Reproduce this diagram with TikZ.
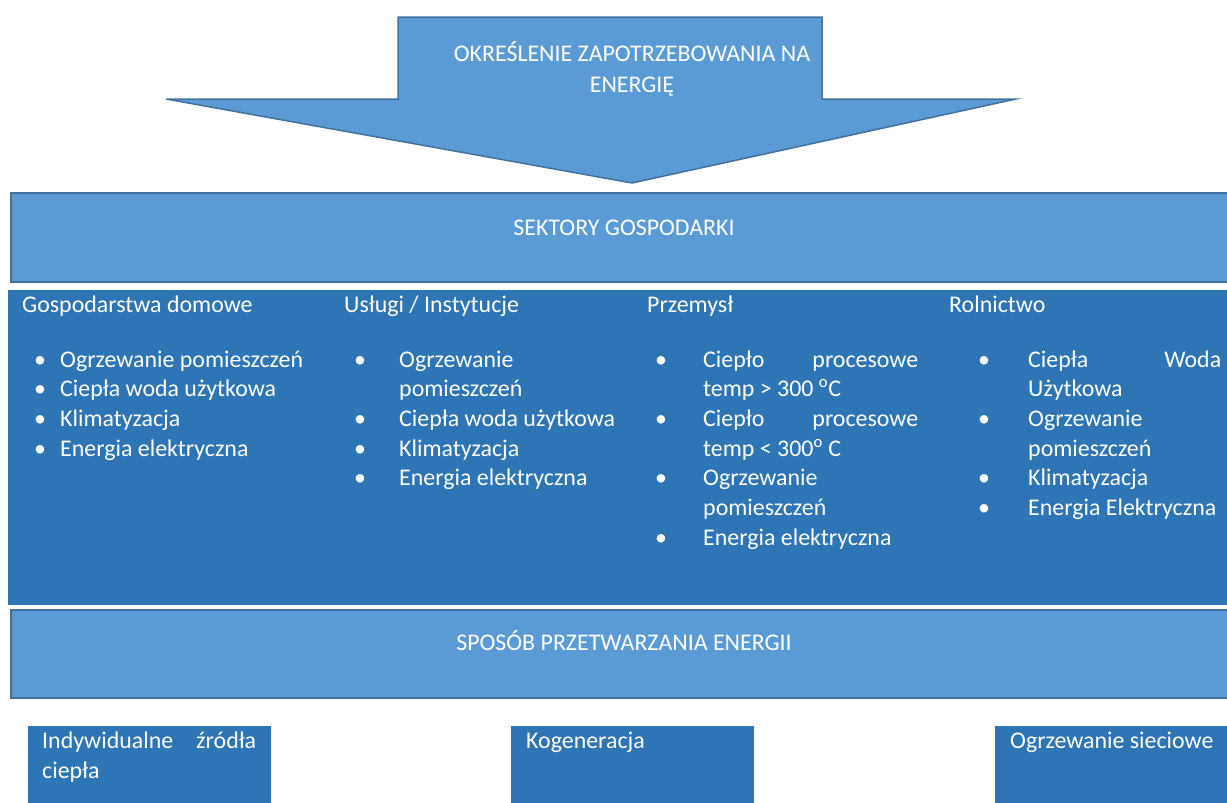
\documentclass[tikz,border=0pt]{standalone}
\usepackage{fontspec}
\setmainfont{Carlito}
\definecolor{lightb}{HTML}{5B9BD5}
\definecolor{darkb}{HTML}{2E75B6}
\definecolor{edgeb}{HTML}{41719C}
\begin{document}
\begin{tikzpicture}[x=1pt,y=-1pt,
  shapefill/.style={fill=lightb, draw=edgeb, line width=1.5pt},
  darkbox/.style={fill=darkb, draw=none, inner sep=0pt, anchor=north west},
  band/.style={shapefill, inner sep=0pt, anchor=north west, minimum width=1230pt, minimum height=89pt},
  txt/.style={text=white, font=\fontsize{23.9}{30}\selectfont, inner sep=0pt, anchor=base west},
  ctxt/.style={txt, anchor=base},
  bul/.style={txt, anchor=base}]
\useasboundingbox (0,0) rectangle (1227,803);
\clip (0,0) rectangle (1227,803);

% top arrow
\draw[shapefill, line join=miter] (398,17) -- (822,17) -- (822,99) -- (1016,99) -- (632,183) -- (166,99) -- (398,99) -- cycle;
\node[ctxt] (top1) at (632,61) {OKREŚLENIE ZAPOTRZEBOWANIA NA};
\node[ctxt] (top2) at (632,92) {ENERGIĘ};

% sectors band
\node[band] (sek) at (10,192) {};
\node[ctxt] (sektxt) at (624,235) {SEKTORY GOSPODARKI};

% dark sector area
\node[darkbox, minimum width=1230pt, minimum height=315pt] (sect) at (8,290) {};

% headings
\node[txt] (h1) at (22,312) {Gospodarstwa domowe};
\node[txt] (h2) at (344,312) {Usługi / Instytucje};
\node[txt] (h3) at (647,312) {Przemysł};
\node[txt] (h4) at (949,312) {Rolnictwo};

% column 1
\node[bul] (c1b1) at (40,367) {•};   \node[txt] (c1t1) at (60,367) {Ogrzewanie pomieszczeń};
\node[bul] (c1b2) at (40,396.7) {•}; \node[txt] (c1t2) at (60,396.7) {Ciepła woda użytkowa};
\node[bul] (c1b3) at (40,426.4) {•}; \node[txt] (c1t3) at (60,426.4) {Klimatyzacja};
\node[bul] (c1b4) at (40,456.1) {•}; \node[txt] (c1t4) at (60,456.1) {Energia elektryczna};

% column 2
\node[bul] (c2b1) at (360,367) {•};   \node[txt] (c2t1) at (399,367) {Ogrzewanie};
                                       \node[txt] (c2t1b) at (399,396.7) {pomieszczeń};
\node[bul] (c2b2) at (360,426.4) {•}; \node[txt] (c2t2) at (399,426.4) {Ciepła woda użytkowa};
\node[bul] (c2b3) at (360,456.1) {•}; \node[txt] (c2t3) at (399,456.1) {Klimatyzacja};
\node[bul] (c2b4) at (360,485.8) {•}; \node[txt] (c2t4) at (399,485.8) {Energia elektryczna};

% column 3
\node[bul] (c3b1) at (661,367) {•};   \node[txt] (c3t1) at (703,367) {\hbox to 215pt{Ciepło\hfill procesowe}};
                                       \node[txt] (c3t1b) at (703,396.7) {temp > 300 \textsuperscript{o}C};
\node[bul] (c3b2) at (661,426.4) {•}; \node[txt] (c3t2) at (703,426.4) {\hbox to 215pt{Ciepło\hfill procesowe}};
                                       \node[txt] (c3t2b) at (703,456.1) {temp < 300\textsuperscript{o} C};
\node[bul] (c3b3) at (661,485.8) {•}; \node[txt] (c3t3) at (703,485.8) {Ogrzewanie};
                                       \node[txt] (c3t3b) at (703,515.5) {pomieszczeń};
\node[bul] (c3b4) at (661,545.2) {•}; \node[txt] (c3t4) at (703,545.2) {Energia elektryczna};

% column 4
\node[bul] (c4b1) at (984,367) {•};   \node[txt] (c4t1) at (1028,367) {\hbox to 193pt{Ciepła\hfill Woda}};
                                       \node[txt] (c4t1b) at (1028,396.7) {Użytkowa};
\node[bul] (c4b2) at (984,426.4) {•}; \node[txt] (c4t2) at (1028,426.4) {Ogrzewanie};
                                       \node[txt] (c4t2b) at (1028,456.1) {pomieszczeń};
\node[bul] (c4b3) at (984,485.8) {•}; \node[txt] (c4t3) at (1028,485.8) {Klimatyzacja};
\node[bul] (c4b4) at (984,515.5) {•}; \node[txt] (c4t4) at (1028,515.5) {Energia Elektryczna};

% conversion band
\node[band, minimum height=88pt] (spo) at (10,609) {};
\node[ctxt] (spotxt) at (624,650) {SPOSÓB PRZETWARZANIA ENERGII};

% bottom boxes
\node[darkbox, minimum width=243pt, minimum height=80pt] (bx1) at (28,726) {};
\node[darkbox, minimum width=243pt, minimum height=80pt] (bx2) at (511,726) {};
\node[darkbox, minimum width=240pt, minimum height=80pt] (bx3) at (995,726) {};
\node[txt] (bx1t) at (42,748) {\hbox to 214pt{Indywidualne\hfill źródła}};
\node[txt] (bx1tb) at (42,778) {ciepła};
\node[txt] (bx2t) at (526,748) {Kogeneracja};
\node[txt] (bx3t) at (1010,748) {Ogrzewanie sieciowe};
\end{tikzpicture}
\end{document}
